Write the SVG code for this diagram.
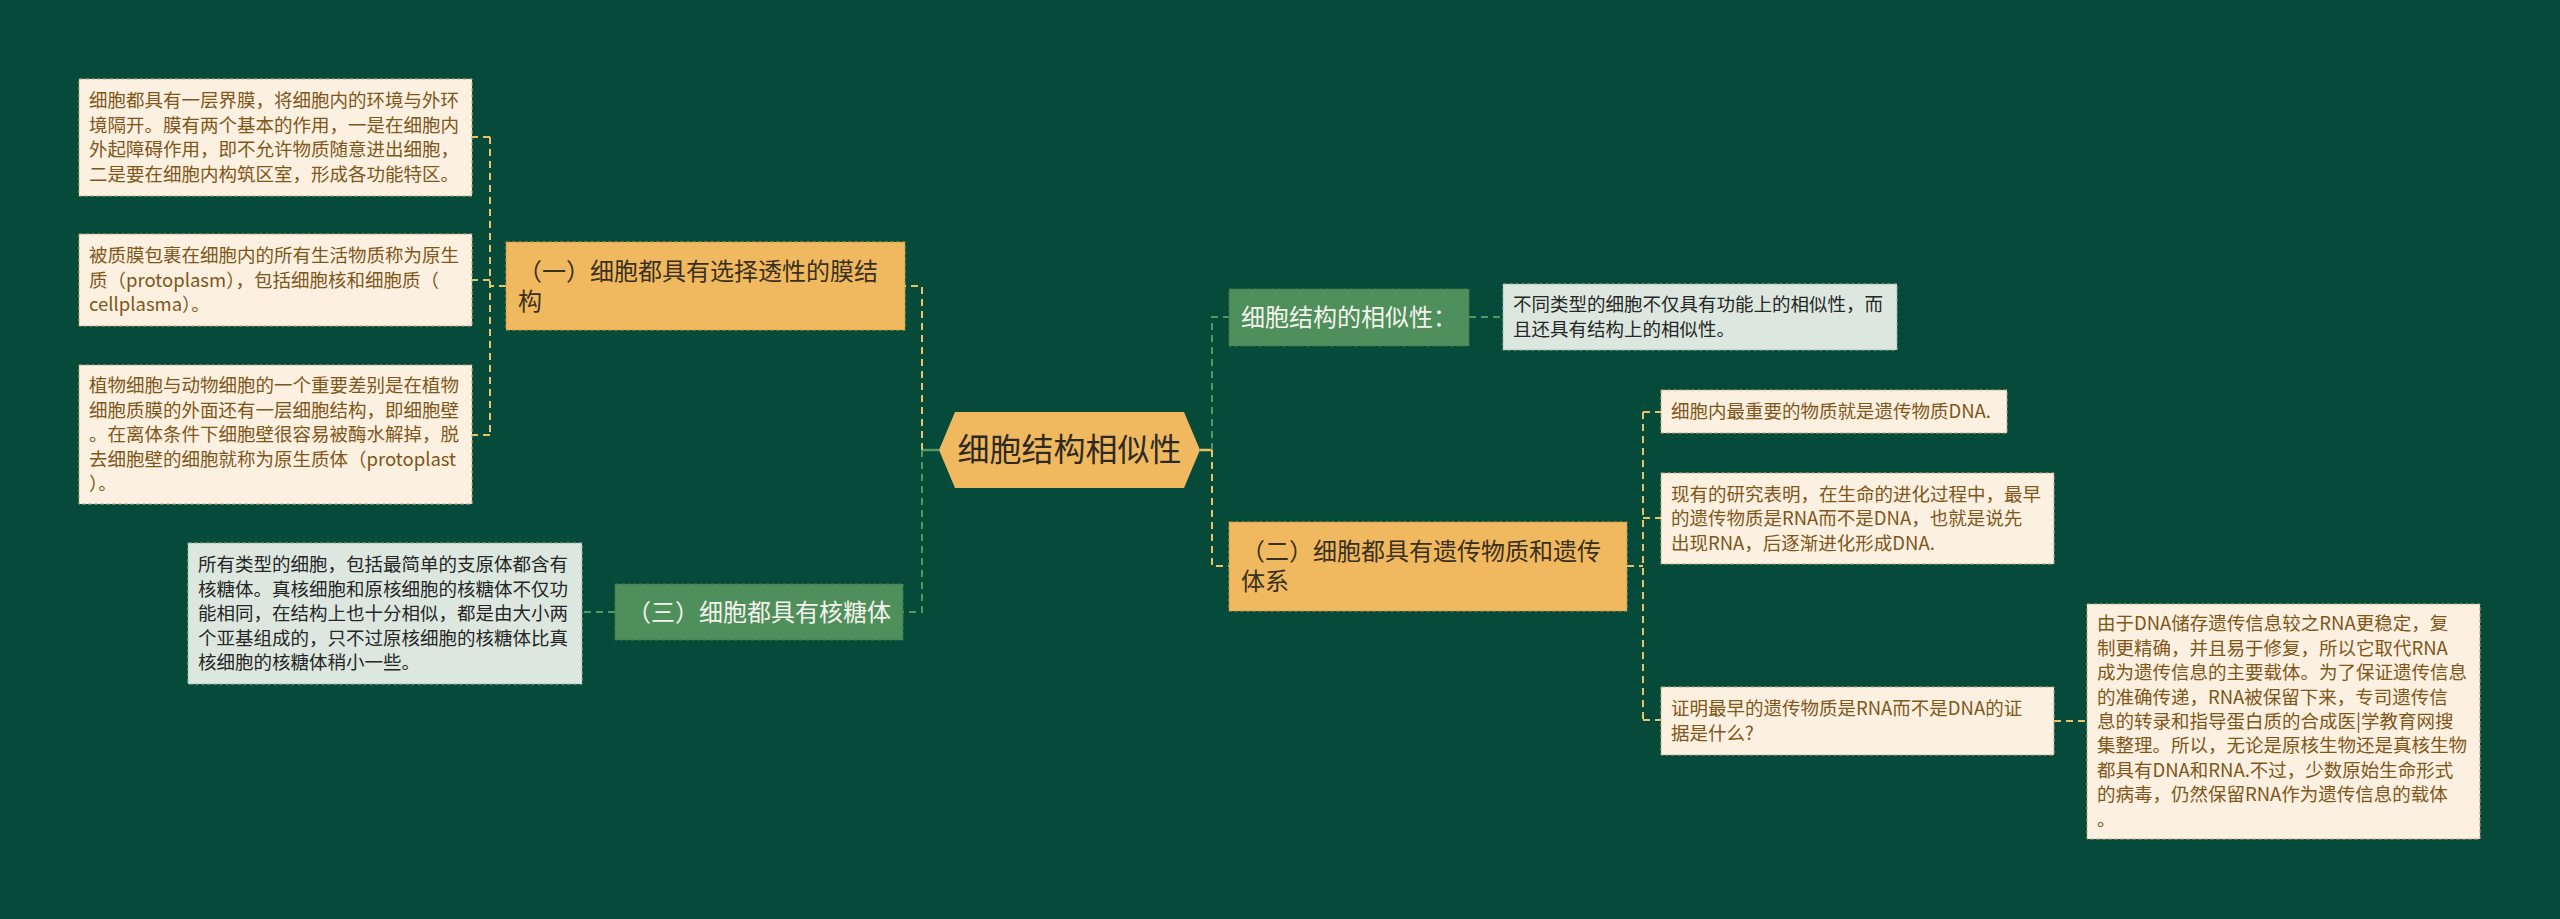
<svg xmlns="http://www.w3.org/2000/svg" width="2560" height="919" viewBox="0 0 2560 919">
<style>
text{font-family:"Noto Sans CJK SC","Microsoft YaHei",sans-serif;}
.bg{fill:#064A39;}
.orange{fill:#F0B95F;stroke:#C8983F;stroke-width:1;stroke-dasharray:4 2;}
.green{fill:#4F8F5B;stroke:#3E7A4B;stroke-width:1;stroke-dasharray:4 2;}
.leafc{fill:#FCF0E0;stroke:#B9A888;stroke-width:1;stroke-dasharray:4 2;}
.leafg{fill:#DCE8DF;stroke:#9DB3A3;stroke-width:1;stroke-dasharray:4 2;}
.tc{font-size:18.5px;fill:#80561A;}
.tg{font-size:18.5px;fill:#262626;}
.tn{font-size:24px;fill:#3A3020;}
.tw{font-size:24px;fill:#F4F4EC;}
.cy{fill:none;stroke:#EBC267;stroke-width:2;stroke-dasharray:7 5;}
.cg{fill:none;stroke:#4F9A62;stroke-width:2;stroke-dasharray:7 5;}
.sy{fill:none;stroke:#EBC267;stroke-width:2.5;}
.sg{fill:none;stroke:#4F9A62;stroke-width:2.5;}
</style>
<rect class="bg" x="0" y="0" width="2560" height="919"/>
<g id="connectors">
  <line class="sg" x1="939" y1="450" x2="922" y2="450"/>
  <path class="cy" d="M922 450 V286 H905"/>
  <path class="cg" d="M922 450 V612 H903"/>
  <path class="cy" d="M506 286 H490"/>
  <path class="cy" d="M490 137 V435"/>
  <path class="cy" d="M490 137 H472"/>
  <path class="cy" d="M490 280 H472"/>
  <path class="cy" d="M490 435 H472"/>
  <path class="cg" d="M615 612 H582"/>
  <line class="sy" x1="1200" y1="450" x2="1212" y2="450"/>
  <path class="cg" d="M1212 450 V317 H1229"/>
  <path class="cy" d="M1212 450 V566 H1229"/>
  <path class="cg" d="M1469 317 H1503"/>
  <path class="cy" d="M1627 566 H1643"/>
  <path class="cy" d="M1643 412 V720"/>
  <path class="cy" d="M1643 412 H1661"/>
  <path class="cy" d="M1643 518 H1661"/>
  <path class="cy" d="M1643 720 H1661"/>
  <path class="cy" d="M2054 721 H2087"/>
</g>
<g id="root">
  <polygon fill="#F0B95F" points="955,412 1184,412 1200,450 1184,488 955,488 939,450"/>
  <text x="1069.5" y="461" font-size="32" fill="#2E2A22" text-anchor="middle">细胞结构相似性</text>
</g>
<g id="node1">
  <rect class="orange" x="506" y="242" width="399" height="88"/>
  <text class="tn" x="518" y="279.5">（一）细胞都具有选择透性的膜结</text>
  <text class="tn" x="518" y="309.5">构</text>
</g>
<g id="leaf1a">
  <rect class="leafc" x="79" y="79" width="393" height="117"/>
  <text class="tc" x="89" y="107.4">细胞都具有一层界膜，将细胞内的环境与外环</text>
  <text class="tc" x="89" y="131.8">境隔开。膜有两个基本的作用，一是在细胞内</text>
  <text class="tc" x="89" y="156.2">外起障碍作用，即不允许物质随意进出细胞，</text>
  <text class="tc" x="89" y="180.6">二是要在细胞内构筑区室，形成各功能特区。</text>
</g>
<g id="leaf1b">
  <rect class="leafc" x="79" y="234" width="393" height="92"/>
  <text class="tc" x="89" y="262">被质膜包裹在细胞内的所有生活物质称为原生</text>
  <text class="tc" x="89" y="286.5">质（protoplasm），包括细胞核和细胞质（</text>
  <text class="tc" x="89" y="311">cellplasma）。</text>
</g>
<g id="leaf1c">
  <rect class="leafc" x="79" y="365" width="393" height="139"/>
  <text class="tc" x="89" y="392">植物细胞与动物细胞的一个重要差别是在植物</text>
  <text class="tc" x="89" y="416.5">细胞质膜的外面还有一层细胞结构，即细胞壁</text>
  <text class="tc" x="89" y="441">。在离体条件下细胞壁很容易被酶水解掉，脱</text>
  <text class="tc" x="89" y="465.5">去细胞壁的细胞就称为原生质体（protoplast</text>
  <text class="tc" x="89" y="490">）。</text>
</g>
<g id="node3">
  <rect class="green" x="615" y="584" width="288" height="56"/>
  <text class="tw" x="627" y="620.5">（三）细胞都具有核糖体</text>
</g>
<g id="leaf3a">
  <rect class="leafg" x="188" y="543" width="394" height="141"/>
  <text class="tg" x="198" y="571">所有类型的细胞，包括最简单的支原体都含有</text>
  <text class="tg" x="198" y="595.5">核糖体。真核细胞和原核细胞的核糖体不仅功</text>
  <text class="tg" x="198" y="620">能相同，在结构上也十分相似，都是由大小两</text>
  <text class="tg" x="198" y="644.5">个亚基组成的，只不过原核细胞的核糖体比真</text>
  <text class="tg" x="198" y="669">核细胞的核糖体稍小一些。</text>
</g>
<g id="nodeR1">
  <rect class="green" x="1229" y="289" width="240" height="57"/>
  <text class="tw" x="1241" y="326">细胞结构的相似性：</text>
</g>
<g id="leafR1a">
  <rect class="leafg" x="1503" y="284" width="394" height="66"/>
  <text class="tg" x="1513" y="311">不同类型的细胞不仅具有功能上的相似性，而</text>
  <text class="tg" x="1513" y="335.5">且还具有结构上的相似性。</text>
</g>
<g id="nodeR2">
  <rect class="orange" x="1229" y="522" width="398" height="89"/>
  <text class="tn" x="1241" y="560">（二）细胞都具有遗传物质和遗传</text>
  <text class="tn" x="1241" y="590">体系</text>
</g>
<g id="leafR2a">
  <rect class="leafc" x="1661" y="390" width="346" height="43"/>
  <text class="tc" x="1671" y="418">细胞内最重要的物质就是遗传物质DNA.</text>
</g>
<g id="leafR2b">
  <rect class="leafc" x="1661" y="473" width="393" height="91"/>
  <text class="tc" x="1671" y="500.5">现有的研究表明，在生命的进化过程中，最早</text>
  <text class="tc" x="1671" y="525">的遗传物质是RNA而不是DNA，也就是说先</text>
  <text class="tc" x="1671" y="549.5">出现RNA，后逐渐进化形成DNA.</text>
</g>
<g id="leafR2c">
  <rect class="leafc" x="1661" y="687" width="393" height="68"/>
  <text class="tc" x="1671" y="715.3">证明最早的遗传物质是RNA而不是DNA的证</text>
  <text class="tc" x="1671" y="739.7">据是什么?</text>
</g>
<g id="leafR2ca">
  <rect class="leafc" x="2087" y="604" width="393" height="235"/>
  <text class="tc" x="2097" y="630.4">由于DNA储存遗传信息较之RNA更稳定，复</text>
  <text class="tc" x="2097" y="654.8">制更精确，并且易于修复，所以它取代RNA</text>
  <text class="tc" x="2097" y="679.2">成为遗传信息的主要载体。为了保证遗传信息</text>
  <text class="tc" x="2097" y="703.6">的准确传递，RNA被保留下来，专司遗传信</text>
  <text class="tc" x="2097" y="728">息的转录和指导蛋白质的合成医|学教育网搜</text>
  <text class="tc" x="2097" y="752.4">集整理。所以，无论是原核生物还是真核生物</text>
  <text class="tc" x="2097" y="776.8">都具有DNA和RNA.不过，少数原始生命形式</text>
  <text class="tc" x="2097" y="801.2">的病毒，仍然保留RNA作为遗传信息的载体</text>
  <text class="tc" x="2097" y="825.6">。</text>
</g>
</svg>
